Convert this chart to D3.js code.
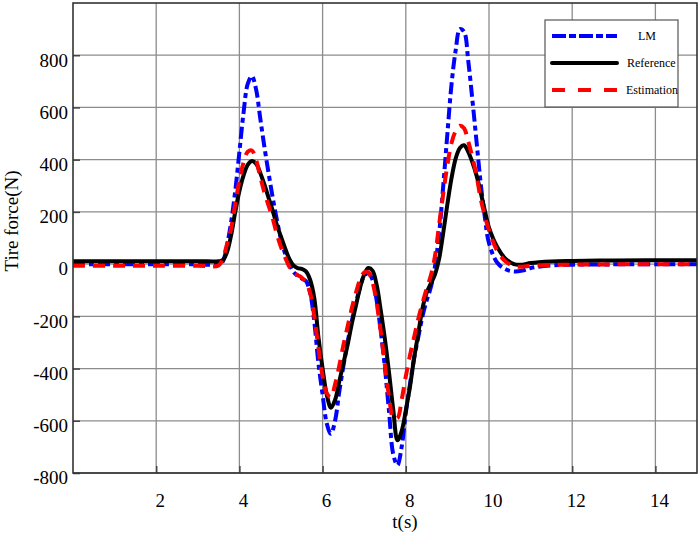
<!DOCTYPE html>
<html>
<head>
<meta charset="utf-8">
<script src="https://cdn.jsdelivr.net/npm/d3@7"></script>
<style>
  html, body { margin: 0; padding: 0; background: #fff; }
  text { font-family: "Liberation Serif", "Times New Roman", serif; fill: #000; }
</style>
</head>
<body>
<svg id="chart" width="700" height="544"></svg>
<script>
const timeValues = [0, 1, 2, 3, 3.5,
  3.6, 3.7, 3.8, 3.9, 4.0, 4.1, 4.2, 4.3, 4.4, 4.5, 4.6, 4.7, 4.8, 4.9, 5.0,
  5.1, 5.2, 5.3, 5.4, 5.5, 5.6, 5.7, 5.8, 5.9, 6.0, 6.1, 6.2, 6.3, 6.4, 6.5,
  6.6, 6.7, 6.8, 6.9, 7.0, 7.1, 7.2, 7.3, 7.4, 7.5, 7.6, 7.7, 7.8, 7.9, 8.0,
  8.1, 8.2, 8.3, 8.4, 8.5, 8.6, 8.7, 8.8, 8.9, 9.0, 9.1, 9.2, 9.3, 9.4, 9.5,
  9.6, 9.7, 9.8, 9.9, 10.0, 10.2, 10.4, 10.6, 10.8, 11, 11.5, 12, 13, 14, 15];

const lmValues = [-1, -1, -1, -1, -1,
  10, 70, 160, 280, 430, 580, 690, 720, 670, 560, 450, 350, 255, 170, 95,
  40, 0, -30, -45, -55, -65, -110, -220, -380, -500, -610, -650, -600, -490, -390,
  -300, -220, -150, -90, -45, -35, -60, -140, -260, -400, -570, -730, -770, -700, -570,
  -460, -360, -280, -200, -140, -90, -10, 115, 300, 500, 690, 820, 900, 890, 780,
  630, 470, 310, 180, 80, 5, -20, -28, -25, -15, -5, -2, -1, -1, -1];

const referenceValues = [11, 11, 11, 11, 11,
  15, 45, 110, 200, 280, 340, 380, 395, 385, 350, 305, 255, 205, 150, 105,
  60, 20, -5, -15, -18, -28, -60, -130, -280, -400, -500, -550, -520, -450, -380,
  -310, -230, -160, -90, -40, -15, -25, -80, -180, -290, -420, -560, -675, -640, -560,
  -470, -360, -265, -170, -110, -75, -40, 20, 120, 230, 330, 405, 445, 455, 430,
  390, 340, 275, 205, 140, 65, 20, 0, -2, 4, 10, 12, 14, 15, 15];

const estimationValues = [-6, -6, -6, -6, -5,
  20, 75, 135, 230, 320, 390, 430, 435, 400, 335, 275, 225, 175, 115, 65,
  25, -10, -30, -42, -52, -70, -110, -200, -320, -430, -495, -510, -460, -390, -310,
  -240, -170, -110, -60, -32, -32, -70, -150, -260, -390, -510, -590, -590, -520, -430,
  -350, -280, -210, -150, -95, -45, 30, 150, 270, 380, 465, 510, 530, 520, 470,
  410, 340, 250, 185, 130, 50, 10, -8, -10, -6, -3, -2, -1, -1, -1];

const xTicks = [2, 4, 6, 8, 10, 12, 14];
const yTicks = [-800, -600, -400, -200, 0, 200, 400, 600, 800];
const seriesNames = ["LM", "Reference", "Estimation"];

(function () {
const pLeft = 73, pRight = 697, pTop = 3, pBottom = 473;
const svg = d3.select("#chart");
const x = d3.scaleLinear().domain([0, 15]).range([pLeft, pRight]);
const y = d3.scaleLinear().domain([-800, 1000]).range([pBottom, pTop]);

// grid
const grid = svg.append("g");
grid.selectAll("line.v").data(xTicks).enter().append("line").attr("class", "v")
  .attr("x1", d => x(d)).attr("x2", d => x(d)).attr("y1", pTop).attr("y2", pBottom)
  .attr("stroke", "#8c8c8c").attr("stroke-width", 1.3);
grid.selectAll("line.h").data(yTicks).enter().append("line").attr("class", "h")
  .attr("x1", pLeft).attr("x2", pRight).attr("y1", d => y(d)).attr("y2", d => y(d))
  .attr("stroke", "#8c8c8c").attr("stroke-width", 1.3);

// axes with inner ticks
const xAxis = d3.axisBottom(x).tickValues(xTicks).tickSize(-7).tickFormat("");
const yAxis = d3.axisLeft(y).tickValues(yTicks).tickSize(-7).tickFormat("");
const gx = svg.append("g").attr("transform", `translate(0,${pBottom})`).call(xAxis);
const gy = svg.append("g").attr("transform", `translate(${pLeft},0)`).call(yAxis);
[gx, gy].forEach(g => {
  g.select(".domain").remove();
  g.selectAll(".tick line").attr("stroke", "#444").attr("stroke-width", 1.5);
});

// clip
svg.append("clipPath").attr("id", "clip").append("rect")
  .attr("x", pLeft).attr("y", pTop).attr("width", pRight - pLeft).attr("height", pBottom - pTop);

const line = d3.line().x(d => x(d[0])).y(d => y(d[1])).curve(d3.curveCatmullRom.alpha(0.5));
const mk = vals => timeValues.map((t, i) => [t, vals[i]]);

const plot = svg.append("g").attr("clip-path", "url(#clip)");
plot.append("path").datum(mk(lmValues)).attr("d", line)
  .attr("fill", "none").attr("stroke", "#0000ff").attr("stroke-width", 4)
  .attr("stroke-dasharray", "12,4,5,4");
plot.append("path").datum(mk(referenceValues)).attr("d", line)
  .attr("fill", "none").attr("stroke", "#000").attr("stroke-width", 4)
  .attr("stroke-linejoin", "round");
plot.append("path").datum(mk(estimationValues)).attr("d", line)
  .attr("fill", "none").attr("stroke", "#ff0000").attr("stroke-width", 4)
  .attr("stroke-dasharray", "12,8");

// frame
svg.append("rect").attr("x", pLeft).attr("y", pTop).attr("width", pRight - pLeft).attr("height", pBottom - pTop)
  .attr("fill", "none").attr("stroke", "#333").attr("stroke-width", 1.6);

// tick labels
svg.append("g").selectAll("text").data(xTicks).enter().append("text")
  .attr("x", d => x(d) + 4).attr("y", 503)
  .attr("text-anchor", "middle").attr("dominant-baseline", "middle")
  .style("font-size", "19px").text(d => d);
svg.append("g").selectAll("text").data(yTicks).enter().append("text")
  .attr("x", 68).attr("y", d => y(d) + 7)
  .attr("text-anchor", "end").attr("dominant-baseline", "middle")
  .style("font-size", "19px").text(d => d);

// axis titles
svg.append("text").attr("x", 405).attr("y", 524)
  .attr("text-anchor", "middle").attr("dominant-baseline", "middle")
  .style("font-size", "19px").text("t(s)");
svg.append("text").attr("transform", "translate(14,221) rotate(-90)")
  .attr("text-anchor", "middle").attr("dominant-baseline", "middle")
  .style("font-size", "19px").text("Tire force(N)");

// legend
const lg = svg.append("g");
lg.append("rect").attr("x", 545).attr("y", 20).attr("width", 133).attr("height", 87)
  .attr("fill", "#fff").attr("stroke", "#555").attr("stroke-width", 1.2);
const legendStyles = [
  {color: "#0000ff", dash: "14,3,7,3", cap: "butt", y: 36, tx: 638},
  {color: "#000", dash: null, cap: "round", y: 63, tx: 627},
  {color: "#ff0000", dash: "13,13", cap: "butt", y: 90, tx: 626}
];
seriesNames.forEach((name, i) => {
  const s = legendStyles[i];
  const l = lg.append("line").attr("x1", 552).attr("x2", 617).attr("y1", s.y).attr("y2", s.y)
    .attr("stroke", s.color).attr("stroke-width", 4).attr("stroke-linecap", s.cap);
  if (s.dash) l.attr("stroke-dasharray", s.dash);
  lg.append("text").attr("x", s.tx).attr("y", s.y + 1).attr("dominant-baseline", "middle")
    .style("font-size", "12px").text(name);
});
})();
</script>
</body>
</html>
